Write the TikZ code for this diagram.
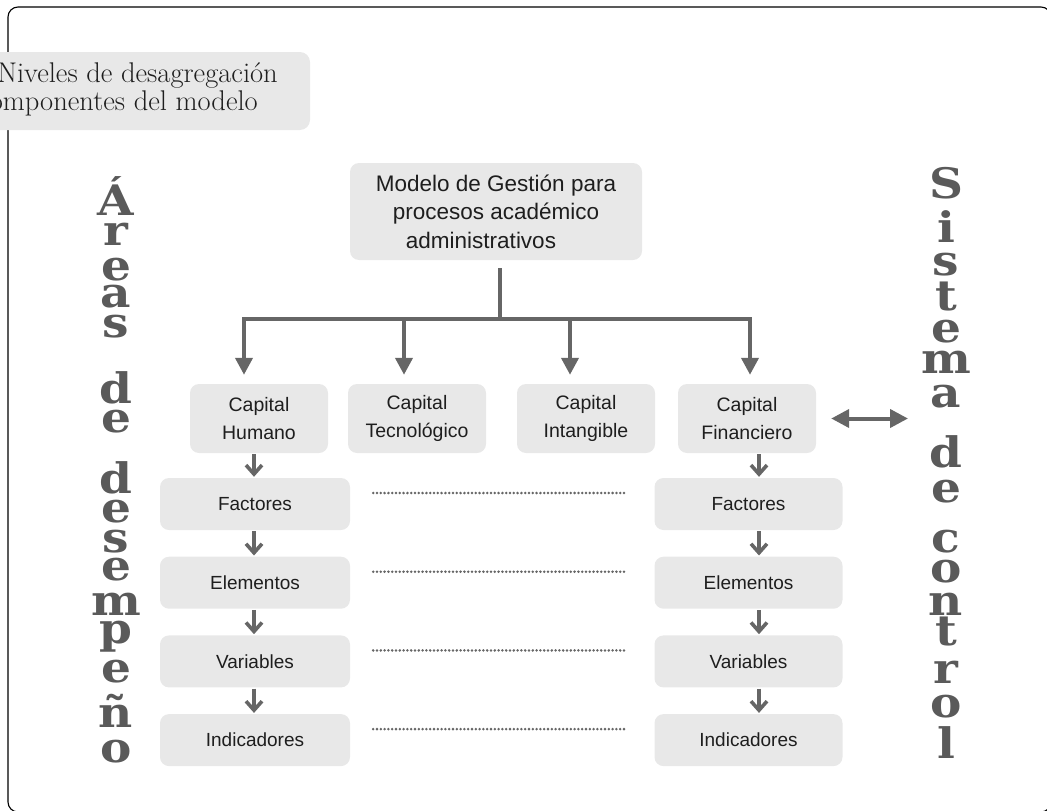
\documentclass[tikz,border=0pt]{standalone}
\usepackage{fontspec}
\usetikzlibrary{arrows.meta}
\newfontfamily\labelfont{Liberation Sans}
\newfontfamily\slabfont{DejaVu Serif}[FakeStretch=1.12]
\definecolor{boxgray}{HTML}{E8E8E8}
\definecolor{arrowgray}{HTML}{666666}
\definecolor{dotgray}{HTML}{666666}
\definecolor{lettergray}{HTML}{5A5A5A}
\definecolor{textblack}{HTML}{1E1E1E}
\begin{document}
\begin{tikzpicture}[x=1pt,y=-1pt,
  panel/.style={fill=boxgray, rounded corners=9pt, inner sep=0pt, text=textblack, align=center},
  capbox/.style={panel, minimum width=138pt, minimum height=69pt, font=\labelfont\fontsize{19.5}{27.5}\selectfont},
  levelbox/.style={panel, minimum width=190pt, minimum height=52pt, font=\labelfont\fontsize{19}{23}\selectfont},
  trunk/.style={draw=arrowgray, line width=4pt},
  branch/.style={trunk, -{Triangle[width=17pt,length=17pt]}, shorten >=9pt},
  stepdown/.style={draw=arrowgray, line width=3.6pt, -{Straight Barb[width=16pt,length=9pt]}, shorten <=1pt, shorten >=1pt},
  linkarrow/.style={draw=arrowgray, line width=4pt, {Triangle[width=18pt,length=18pt]}-{Triangle[width=18pt,length=18pt]}},
  dotrow/.style={draw=dotgray, line width=2.8pt, line cap=round, dash pattern=on 0pt off 3.8pt},
  letter/.style={font=\slabfont\bfseries\fontsize{42}{42}\selectfont, text=lettergray, anchor=base, inner sep=0pt},
  captiontext/.style={font=\fontsize{28.5}{30}\selectfont, text=textblack, inner sep=0pt, anchor=base east}
]
\useasboundingbox (0,0) rectangle (1047,811);
\clip (0,0) rectangle (1047,811);

% outer frame
\draw[line width=1.1pt, rounded corners=10pt] (8,7) rectangle (1051,812);

% caption panel at the top left
\node[panel, rounded corners=10pt, minimum width=350pt, minimum height=78pt] (caption) at (135,91) {};
\node[captiontext] (cap1) at (278,82) {Niveles de desagregación};
\node[captiontext] (cap2) at (258,110) {omponentes del modelo};

% root of the tree
\node[panel, minimum width=292pt, minimum height=97pt,
      font=\labelfont\fontsize{22.5}{28.5}\selectfont] (main) at (496,211.5)
  {Modelo de Gestión para\\procesos académico\\administrativos\hspace*{30pt}};

% the four capitals
\node[capbox] (ch) at (259,418.5) {Capital\\Humano};
\node[capbox] (ct) at (417,418.5) {Capital\\Tecnológico};
\node[capbox] (ci) at (586,418.5) {Capital\\Intangible};
\node[capbox] (cf) at (747,418.5) {Capital\\Financiero};

% levels of each capital
\foreach \lbl [count=\i] in {Factores,Elementos,Variables,Indicadores}{
  \pgfmathsetmacro{\yy}{504+78.7*(\i-1)}
  \node[levelbox] (lf\i) at (255,\yy) {\lbl};
  \node[levelbox, minimum width=188pt] (rf\i) at (748.5,\yy) {\lbl};
  \draw[dotrow] ([xshift=23pt,yshift=11pt]lf\i.east) -- ([xshift=-30pt,yshift=11pt]rf\i.west);
}

% tree connectors
\coordinate (split) at (500,319);
\draw[trunk, shorten <=8pt] (main.south -| split) -- (split);
\draw[branch] (split) -| ([xshift=-15pt]ch.north);
\draw[branch] (split) -| ([xshift=-13pt]ct.north);
\draw[branch] (split) -| ([xshift=-16pt]ci.north);
\draw[branch] (split) -| ([xshift=3pt]cf.north);

% downward steps through the levels
\coordinate (lx) at (254,0);
\coordinate (rx) at (759,0);
\draw[stepdown] (ch.south -| lx) -- (lf1.north -| lx);
\draw[stepdown] (cf.south -| rx) -- (rf1.north -| rx);
\foreach \i [evaluate=\i as \j using int(\i+1)] in {1,2,3}{
  \draw[stepdown] (lf\i.south -| lx) -- (lf\j.north -| lx);
  \draw[stepdown] (rf\i.south -| rx) -- (rf\j.north -| rx);
}

% link to the control system
\coordinate (ctl) at (908,418.5);
\draw[linkarrow] ([xshift=15pt]cf.east) -- (ctl);

% vertical word columns
\foreach \ch/\yy [count=\i] in {Á/215, r/245, e/280, a/307, s/337, d/403, e/432,
    d/493, e/522, s/552, e/580, m/615, p/643, e/682, ñ/727, o/762}{
  \node[letter] (la\i) at (116,\yy) {\ch};
}
\foreach \ch/\yy [count=\i] in {S/198, i/242, s/275, t/310, e/342, m/373, a/407,
    d/467, e/502, c/552, o/582, n/615, t/645, r/683, o/717, l/758}{
  \node[letter] (sc\i) at (946,\yy) {\ch};
}
\end{tikzpicture}
\end{document}
